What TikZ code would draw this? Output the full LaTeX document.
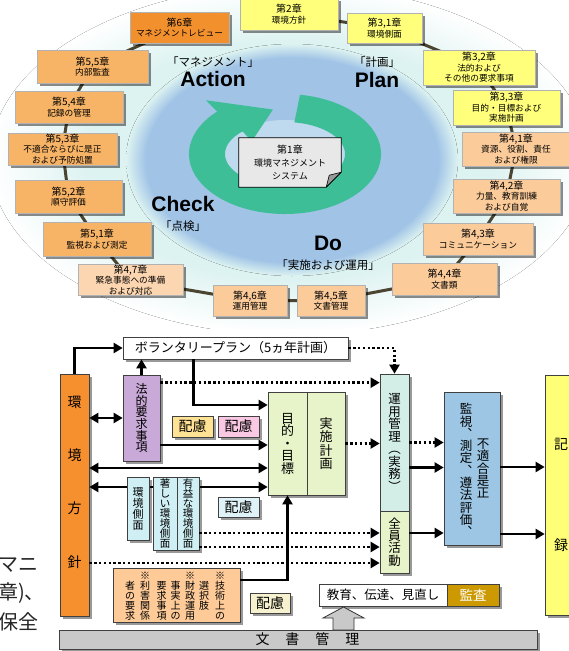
\documentclass[tikz,border=0pt]{standalone}
\usepackage{fontspec}
\setmainfont{Noto Sans CJK JP}
\newfontfamily\hv{Liberation Sans}
\usetikzlibrary{arrows.meta,shadows,calc}
\pgfdeclarelayer{bgg}
\pgfdeclarelayer{bg}
\pgfsetlayers{bgg,bg,main}
\definecolor{halocol}{HTML}{DDF3F1}
\definecolor{ringblue}{HTML}{A0C3E6}
\definecolor{innerblue}{HTML}{BFD9EE}
\definecolor{ringgreen}{HTML}{3DBE97}
\definecolor{chsix}{HTML}{F2902E}
\definecolor{chfive}{HTML}{F8B466}
\definecolor{chfour}{HTML}{FBCB9A}
\definecolor{chfourb}{HTML}{FCD6B0}
\definecolor{chthree}{HTML}{FFFF7C}
\definecolor{chone}{HTML}{E8E8E8}
\definecolor{chaincol}{HTML}{4A4430}
\definecolor{khorange}{HTML}{F6902F}
\definecolor{houpurple}{HTML}{C8A9D7}
\definecolor{haiyellow}{HTML}{FFE293}
\definecolor{haipink}{HTML}{F9C8E3}
\definecolor{haicyan}{HTML}{DFF2F7}
\definecolor{haicream}{HTML}{F6F1CE}
\definecolor{mokgreen}{HTML}{E7F3C8}
\definecolor{unyomint}{HTML}{D2EEE7}
\definecolor{kscyan}{HTML}{CFEFF4}
\definecolor{kanblue}{HTML}{9CC6E4}
\definecolor{kiyellow}{HTML}{FFFF77}
\definecolor{gipeach}{HTML}{FDCA98}
\definecolor{kansagold}{HTML}{CC9A00}
\definecolor{bargray}{HTML}{C9C9C9}
\pgfdeclareradialshading{haloshade}{\pgfpoint{0bp}{0bp}}{color(0bp)=(halocol); color(17bp)=(halocol); color(25bp)=(white); color(50bp)=(white)}
\pgfdeclareradialshading{blueshade}{\pgfpoint{0bp}{0bp}}{color(0bp)=(ringblue); color(22bp)=(ringblue); color(25bp)=(halocol); color(50bp)=(halocol)}
\newcommand\vfsz[2]{\fontsize{#1}{#2}\selectfont\lineskiplimit=-30pt\lineskip=0pt\relax}
\newcommand\cht[1]{{\fontsize{10}{10.5}\selectfont #1}}
\tikzset{
 chap/.style={rectangle, inner sep=0.5pt, align=center, draw=black!30, line width=0.4pt,
   font=\vfsz{8.7}{10.5}, drop shadow={shadow xshift=2.5pt,shadow yshift=-2.5pt,fill=black,opacity=0.45}},
 bx/.style={rectangle, inner sep=0pt, draw=black!75, line width=0.7pt, align=center,
   drop shadow={shadow xshift=3pt,shadow yshift=-3pt,fill=black,opacity=0.4}},
 arr/.style={line width=2.6pt, -{Triangle[length=9pt,width=10pt]}},
 darr/.style={line width=2.6pt, {Triangle[length=9pt,width=10pt]}-{Triangle[length=9pt,width=10pt]}},
 dotarr/.style={line width=2.4pt, dash pattern=on 2.4pt off 2.4pt, -{Triangle[length=9pt,width=10pt]}},
 lbl/.style={inner sep=0pt, align=center},
 big/.style={inner sep=0pt, font=\hv\bfseries\fontsize{21}{21}\selectfont},
 jlab/.style={inner sep=0pt, font=\vfsz{11.5}{11.5}},
}
\begin{document}
\begin{tikzpicture}[x=1pt,y=1pt]
\useasboundingbox (0,0) rectangle (569,-651);
% ---------------- background of the upper picture
\begin{pgfonlayer}{bgg}
\fill[white] (0,0) rectangle (569,-651);
\begin{scope}
\clip (0,0) rectangle (569,-328);
\fill[shading=haloshade] (290,-160) ellipse[x radius=300pt, y radius=175pt];
\end{scope}
\fill[shading=blueshade] (292,-160) ellipse[x radius=166pt, y radius=116pt];
\coordinate (C) at (285,-154);
\fill[innerblue] (C) ellipse[x radius=62pt, y radius=34pt];
\fill[ringgreen] ($(C)+(81:96pt and 60pt)$) arc[start angle=81, end angle=-225, x radius=96pt, y radius=60pt]
  -- ($(C)+(135:112pt and 76pt)$)
  -- ($(C)+(99:77pt and 45pt)$)
  -- ($(C)+(135:47pt and 18pt)$)
  -- ($(C)+(135:60pt and 32pt)$)
  arc[start angle=-225, end angle=81, x radius=60pt, y radius=32pt] -- cycle;
\end{pgfonlayer}
% ---------------- chapter boxes
\node[chap, fill=chsix, minimum width=99pt, minimum height=31pt] (c6) at (179.5,-27.5) {\cht{第6章}\\マネジメントレビュー};
\node[chap, fill=chthree, minimum width=98pt, minimum height=32pt] (c2) at (289,-14) {\cht{第2章}\\環境方針};
\node[chap, fill=chthree, minimum width=75pt, minimum height=30pt] (c31) at (384.5,-28) {\cht{第3,1章}\\環境側面};
\node[chap, fill=chthree, minimum width=112pt, minimum height=35pt] (c32) at (479,-67.5) {\cht{第3,2章}\\法的および\\その他の要求事項};
\node[chap, fill=chthree, minimum width=107pt, minimum height=35pt] (c33) at (506.5,-107.5) {\cht{第3,3章}\\目的・目標および\\実施計画};
\node[chap, fill=chfour, minimum width=108pt, minimum height=34pt] (c41) at (516,-149) {\cht{第4,1章}\\資源、役割、責任\\および権限};
\node[chap, fill=chfour, minimum width=107pt, minimum height=34pt] (c42) at (506.5,-196) {\cht{第4,2章}\\力量、教育訓練\\および自覚};
\node[chap, fill=chfour, minimum width=110pt, minimum height=32pt] (c43) at (478,-239) {\cht{第4,3章}\\コミュニケーション};
\node[chap, fill=chfour, minimum width=105pt, minimum height=32pt] (c44) at (444.5,-279) {\cht{第4,4章}\\文書類};
\node[chap, fill=chfour, minimum width=68pt, minimum height=31pt] (c45) at (331,-300.5) {\cht{第4,5章}\\文書管理};
\node[chap, fill=chfour, minimum width=74pt, minimum height=31pt] (c46) at (250,-300.5) {\cht{第4,6章}\\運用管理};
\node[chap, fill=chfourb, minimum width=105pt, minimum height=30pt] (c47) at (130.5,-280) {\cht{第4,7章}\\緊急事態への準備\\および対応};
\node[chap, fill=chfive, minimum width=108pt, minimum height=34pt] (c51) at (97,-239) {\cht{第5,1章}\\監視および測定};
\node[chap, fill=chfive, minimum width=107pt, minimum height=33pt] (c52) at (68.5,-196.5) {\cht{第5,2章}\\順守評価};
\node[chap, fill=chfive, minimum width=109pt, minimum height=32pt] (c53) at (62.5,-149) {\cht{第5,3章}\\不適合ならびに是正\\および予防処置};
\node[chap, fill=chfive, minimum width=108pt, minimum height=32pt] (c54) at (69,-107) {\cht{第5,4章}\\記録の管理};
\node[chap, fill=chfive, minimum width=111pt, minimum height=33pt] (c55) at (92.5,-66.5) {\cht{第5,5章}\\内部監査};
\node[lbl, font=\vfsz{9}{13}, minimum width=102pt, minimum height=49pt] (c1) at (290,-162.5) {\cht{第1章}\\環境マネジメント\\システム};
\begin{pgfonlayer}{bg}
\draw[chaincol, line width=3pt, line join=round] (c2.center) -- (c31.center) -- (c32.center) -- (c33.center) -- (c41.center) -- (c42.center) -- (c43.center) -- (c44.center) -- (c45.center) -- (c46.center) -- (c47.center) -- (c51.center) -- (c52.center) -- (c53.center) -- (c54.center) -- (c55.center) -- (c6.center);
\filldraw[fill=chone, draw=black, line width=0.8pt] (c1.north west) -- (c1.north east) -- ([yshift=15pt]c1.south east) -- ([xshift=-15pt]c1.south east) -- (c1.south west) -- cycle;
\filldraw[fill=black!40, draw=black, line width=0.6pt, line join=round] ([yshift=15pt]c1.south east) -- ([xshift=-12pt,yshift=12pt]c1.south east) -- ([xshift=-15pt]c1.south east) -- cycle;
\end{pgfonlayer}
% PDCA labels
\node[jlab] (mg) at (213,-62) {「マネジメント」};
\node[big] (act) at (213,-79) {Action};
\node[jlab] (kk) at (377,-62) {「計画」};
\node[big] (plan) at (377,-80) {Plan};
\node[big] (chk) at (183,-204) {Check};
\node[jlab] (tk) at (183,-226) {「点検」};
\node[big] (do) at (328,-243) {Do};
\node[jlab] (ju) at (328,-265) {「実施および運用」};
% ---------------- lower diagram
\node[bx, fill=white, minimum width=225pt, minimum height=22pt, font=\vfsz{13}{13}] (vp) at (235.5,-348) {ボランタリープラン（5ヵ年計画）};
\node[bx, fill=khorange, minimum width=29pt, minimum height=242pt] (kh) at (74.5,-495) {};
\node[lbl, font=\vfsz{14}{53.3}] (kht) at (74.5,-482) {環\\境\\方\\針};
\node[bx, fill=houpurple, minimum width=37pt, minimum height=86pt, font=\vfsz{12}{11.7}] (hou) at (141.5,-418) {法\\的\\要\\求\\事\\項};
\node[bx, fill=haiyellow, minimum width=41pt, minimum height=21pt, font=\vfsz{14}{14}] (hai1) at (192.5,-426.5) {配慮};
\node[bx, fill=haipink, minimum width=41pt, minimum height=21pt, font=\vfsz{14}{14}] (hai2) at (238.5,-426.5) {配慮};
\node[bx, fill=mokgreen, minimum width=39pt, minimum height=103pt, font=\vfsz{13}{12.5}] (mok) at (287.5,-443.5) {目\\的\\・\\目\\標};
\node[bx, fill=mokgreen, minimum width=38pt, minimum height=103pt, font=\vfsz{13}{13.3}] (jk) at (326,-443.5) {実\\施\\計\\画};
\node[bx, fill=unyomint, minimum width=29pt, minimum height=137pt, font=\vfsz{12.5}{12.5}] (unyo) at (394.5,-442.5) {運\\用\\管\\理\\︵\\実\\務\\︶};
\node[bx, fill=mokgreen, minimum width=29pt, minimum height=62pt, font=\vfsz{12.5}{12.3}] (zen) at (394.5,-542) {全\\員\\活\\動};
\node[bx, fill=kanblue, minimum width=56pt, minimum height=153pt] (kan) at (472,-468.5) {};
\node[lbl, font=\vfsz{12.5}{12.3}] (kanl) at (466,-470) {監\\視\\︑\\測\\定\\︑\\遵\\法\\評\\価\\︑};
\node[lbl, font=\vfsz{12.5}{12.3}] (kanr) at (483,-468.5) {不\\適\\合\\是\\正};
\node[bx, fill=kiyellow, minimum width=32pt, minimum height=240pt, font=\vfsz{14}{101}] (ki) at (561,-495) {記\\録};
% line behind the aspect boxes
\coordinate (kb) at ([yshift=8pt]kh.east);
\draw[darr] (kb) -- (kb -| mok.west);
\node[bx, fill=kscyan, minimum width=22pt, minimum height=63pt, font=\vfsz{11}{11}] (ks) at (138,-508.5) {環\\境\\側\\面};
\node[bx, fill=kscyan, minimum width=24pt, minimum height=73pt, font=\vfsz{10.5}{10}] (ichi) at (165,-513.5) {著\\し\\い\\環\\境\\側\\面};
\node[bx, fill=kscyan, minimum width=22pt, minimum height=73pt, font=\vfsz{10.5}{10}] (yu) at (188,-513.5) {有\\益\\な\\環\\境\\側\\面};
\node[bx, fill=haicyan, minimum width=41pt, minimum height=20pt, font=\vfsz{14}{14}] (hai3) at (238.5,-507) {配慮};
\node[bx, fill=gipeach, minimum width=127pt, minimum height=54pt] (gi) at (176.5,-595) {};
\node[lbl, font=\vfsz{10}{10}] (gc1) at (220,-596) {※\\技\\術\\上\\の};
\node[lbl, font=\vfsz{10}{10}] (gc2) at (204,-596) {\phantom{※}\\選\\択\\肢\\\phantom{※}};
\node[lbl, font=\vfsz{10}{10}] (gc3) at (190,-596) {※\\財\\政\\運\\用};
\node[lbl, font=\vfsz{10}{10}] (gc4) at (175.5,-596) {\phantom{※}\\事\\実\\上\\の};
\node[lbl, font=\vfsz{10}{10}] (gc5) at (161.5,-596) {\phantom{※}\\要\\求\\事\\項};
\node[lbl, font=\vfsz{10}{10}] (gc6) at (145,-596) {※\\利\\害\\関\\係};
\node[lbl, font=\vfsz{10}{10}] (gc7) at (130,-596) {\phantom{※}\\者\\の\\要\\求};
\node[bx, fill=haicream, minimum width=40pt, minimum height=20pt, font=\vfsz{14}{14}] (hai4) at (270,-603) {配慮};
\node[bx, fill=white, minimum width=128pt, minimum height=22pt, font=\vfsz{12.5}{12.5}] (kyo) at (383,-595) {教育、伝達、見直し};
\node[bx, fill=kansagold, text=white, minimum width=52pt, minimum height=22pt, font=\vfsz{13.5}{13.5}] (kansa) at (473,-595) {監査};
\node[bx, fill=bargray, minimum width=478pt, minimum height=19pt] (bun) at (298,-639.5) {};
\node[lbl, font=\vfsz{14}{14}] (bunt) at (307.5,-639.5) {文\hspace{16pt}書\hspace{16pt}管\hspace{16pt}理};
\filldraw[fill=bargray, draw=black!80, line width=0.8pt, line join=miter] (333,-630) -- (333,-618) -- (323,-618) -- (343.5,-607) -- (364,-618) -- (354,-618) -- (354,-630) -- cycle;
% partly cut text at the left edge
\node[anchor=east, inner sep=0pt, font=\vfsz{20}{20}, text=black!85] (lm1) at (39,-565) {マニ};
\node[anchor=east, inner sep=0pt, font=\vfsz{20}{20}, text=black!85] (lm2) at (45,-593) {章)、};
\node[anchor=east, inner sep=0pt, font=\vfsz{20}{20}, text=black!85] (lm3) at (39,-622) {保全};
% ---------------- connectors
\draw[arr] (kh.north) |- (vp.west);
\draw[arr] (hou.north) -- (hou.north |- vp.south);
\draw[darr] (kh.east |- hou.west) -- (hou.west);
\coordinate (vpd) at ([xshift=71pt]vp.south west);
\coordinate (mokin) at ([yshift=38.5pt]mok.west);
\draw[arr] (vpd) |- (mokin);
\coordinate (houa) at ([yshift=-8pt]hou.north east);
\draw[dotarr] (houa) -- (houa -| unyo.west);
\coordinate (houb) at ([yshift=-27pt]hou.east);
\draw[arr] (houb) -- (houb -| mok.west);
\coordinate (kha) at ([yshift=27pt]kh.east);
\draw[darr] (kha) -- (kha -| mok.west);
\coordinate (khc) at ([yshift=-68pt]kh.east);
\draw[dotarr] (khc) -- (khc -| zen.west);
\coordinate (yua) at ([yshift=-19.5pt]yu.east);
\draw[dotarr] (yua) -- (yua -| zen.west);
\coordinate (yub) at ([yshift=-33.5pt]yu.east);
\draw[dotarr] (yub) -- (yub -| zen.west);
\coordinate (gia) at ([yshift=15pt]gi.east);
\draw[arr] (gia) -| (mok.south);
\draw[dotarr] (jk.east) -- (jk.east -| unyo.west);
\draw[dotarr] (vp.east) -| (unyo.north);
\coordinate (una) at ([yshift=-25pt]unyo.east);
\draw[arr] (una) -- (una -| kan.west);
\draw[dotarr] (unyo.east) -- (unyo.east -| kan.west);
\coordinate (zea) at ([yshift=9pt]zen.east);
\draw[arr] (zea) -- (zea -| kan.west);
\coordinate (kaa) at ([yshift=1.5pt]kan.east);
\draw[arr] (kaa) -- (kaa -| ki.west);
\coordinate (kab) at ([yshift=-65.5pt]kan.east);
\draw[arr] (kab) -- (kab -| ki.west);
\end{tikzpicture}
\end{document}
